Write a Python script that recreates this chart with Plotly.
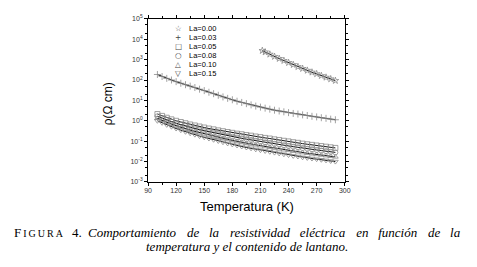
import plotly.graph_objects as go

# page size and the default 8px body margin of the written html page
PAGE_W, PAGE_H = 477, 267
BODY_MARGIN = 8
W, H = PAGE_W - BODY_MARGIN, PAGE_H - BODY_MARGIN

# ---------------- data (log10 of rho in ohm*cm) ----------------
T_top = [212, 215, 220, 225, 230, 235, 240, 245, 250, 255, 260, 265, 270, 275, 280, 285, 290]
log_rho_la000 = [3.44, 3.37, 3.26, 3.15, 3.05, 2.95, 2.85, 2.75, 2.65, 2.56, 2.47, 2.38, 2.30,
                 2.21, 2.13, 2.05, 1.97]

T_main = [100, 105, 110, 115, 120, 125, 130, 135, 140, 145, 150, 155, 160, 165, 170, 175, 180,
          185, 190, 195, 200, 205, 210, 215, 220, 225, 230, 235, 240, 245, 250, 255, 260, 265,
          270, 275, 280, 285, 290]
log_rho_la003 = [2.27, 2.17, 2.08, 2.00, 1.92, 1.84, 1.77, 1.70, 1.63, 1.55, 1.48, 1.40, 1.33,
                 1.25, 1.17, 1.10, 1.03, 0.96, 0.90, 0.84, 0.78, 0.72, 0.67, 0.62, 0.57, 0.52,
                 0.48, 0.44, 0.40, 0.36, 0.33, 0.29, 0.26, 0.22, 0.19, 0.15, 0.12, 0.08, 0.05]
log_rho_la005 = [0.33, 0.24, 0.15, 0.07, 0.00, -0.06, -0.12, -0.18, -0.23, -0.28, -0.33, -0.38,
                 -0.42, -0.47, -0.51, -0.55, -0.59, -0.63, -0.66, -0.70, -0.73, -0.77, -0.80,
                 -0.84, -0.87, -0.91, -0.94, -0.98, -1.01, -1.05, -1.08, -1.12, -1.15, -1.18,
                 -1.21, -1.24, -1.27, -1.30, -1.33]
log_rho_la008 = [0.22, 0.13, 0.04, -0.04, -0.12, -0.19, -0.26, -0.32, -0.38, -0.44, -0.49, -0.54,
                 -0.59, -0.64, -0.69, -0.74, -0.78, -0.82, -0.86, -0.90, -0.94, -0.98, -1.02,
                 -1.06, -1.09, -1.13, -1.16, -1.20, -1.23, -1.27, -1.30, -1.34, -1.37, -1.40,
                 -1.43, -1.46, -1.49, -1.52, -1.55]
log_rho_la010 = [0.12, 0.02, -0.07, -0.16, -0.24, -0.32, -0.39, -0.46, -0.52, -0.58, -0.64, -0.70,
                 -0.75, -0.81, -0.86, -0.91, -0.96, -1.01, -1.05, -1.10, -1.14, -1.18, -1.22,
                 -1.26, -1.30, -1.34, -1.38, -1.42, -1.45, -1.49, -1.52, -1.56, -1.59, -1.62,
                 -1.65, -1.68, -1.71, -1.74, -1.77]
log_rho_la015 = [0.00, -0.10, -0.20, -0.29, -0.38, -0.46, -0.54, -0.61, -0.68, -0.75, -0.81, -0.87,
                 -0.93, -0.99, -1.05, -1.11, -1.16, -1.21, -1.26, -1.31, -1.35, -1.40, -1.44,
                 -1.48, -1.52, -1.56, -1.60, -1.64, -1.68, -1.72, -1.75, -1.79, -1.82, -1.85,
                 -1.88, -1.91, -1.94, -1.97, -2.00]

series_names = ["La=0.00", "La=0.03", "La=0.05", "La=0.08", "La=0.10", "La=0.15"]
legend_glyphs = ["\u2606", "+", "\u25a1", "\u25cb", "\u25b3", "\u25bd"]

x_ticks = [90, 120, 150, 180, 210, 240, 270, 300]
y_tick_exps = [-3, -2, -1, 0, 1, 2, 3, 4, 5]

# ---------------- figure ----------------
series = [
    (T_top, log_rho_la000, "star-open"),
    (T_main, log_rho_la003, "cross-thin-open"),
    (T_main, log_rho_la005, "square-open"),
    (T_main, log_rho_la008, "circle-open"),
    (T_main, log_rho_la010, "triangle-up-open"),
    (T_main, log_rho_la015, "triangle-down-open"),
]

fig = go.Figure()
for (tx, ly, sym), name in zip(series, series_names):
    fig.add_trace(go.Scatter(
        x=tx, y=[10 ** v for v in ly], mode="lines+markers", name=name,
        line=dict(color="#111", width=1),
        marker=dict(symbol=sym, size=5, color="#8a8a8a", line=dict(width=0.8, color="#8a8a8a")),
        showlegend=False,
    ))

# page pixel -> paper fraction
def px_x(p):
    return (p - BODY_MARGIN) / W

def px_y(p):
    return 1 - (p - BODY_MARGIN) / H

x0, x1 = 147.0, 348.0
y0, y1 = 15, 182.7

font_sans = "Liberation Sans, Arial, sans-serif"
fig.update_layout(
    width=W, height=H,
    margin=dict(l=0, r=0, t=0, b=0),
    paper_bgcolor="white", plot_bgcolor="white",
    showlegend=False,
    xaxis=dict(
        domain=[px_x(x0), px_x(x1)], range=[90, 300],
        tickvals=x_ticks, ticktext=[str(v) for v in x_ticks],
        ticks="outside", ticklen=3, tickwidth=1, tickcolor="black",
        minor=dict(ticks="outside", ticklen=2, tickwidth=1, tickcolor="black", dtick=15, tick0=90),
        showline=True, linecolor="black", linewidth=1, mirror="ticks",
        showgrid=False, zeroline=False, ticklabelstandoff=-1,
        tickfont=dict(family=font_sans, size=7, color="#333"),
    ),
    yaxis=dict(
        domain=[px_y(y1), px_y(y0)], type="log", range=[-3, 5],
        tickvals=[10 ** e for e in y_tick_exps],
        ticktext=["10<sup>%d</sup>" % e for e in y_tick_exps],
        ticks="outside", ticklen=3, tickwidth=1, tickcolor="black",
        minor=dict(ticks="outside", ticklen=2, tickwidth=1, tickcolor="black"),
        showline=True, linecolor="black", linewidth=1, mirror="ticks",
        showgrid=False, zeroline=False,
        tickfont=dict(family=font_sans, size=7, color="#333"),
    ),
)

ann = []
# axis titles
ann.append(dict(x=px_x(248), y=px_y(208), xref="paper", yref="paper", text="Temperatura (K)",
                showarrow=False, font=dict(family=font_sans, size=13, color="black"),
                xanchor="center", yanchor="middle"))
ann.append(dict(x=px_x(107), y=px_y(102), xref="paper", yref="paper", text="\u03c1(\u03a9 cm)",
                showarrow=False, textangle=-90, font=dict(family=font_sans, size=12, color="black"),
                xanchor="center", yanchor="middle"))

# legend drawn as text
legend_rows = [25, 34.3, 43.3, 52.3, 61.7, 71]
for g, name, ry in zip(legend_glyphs, series_names, legend_rows):
    ann.append(dict(x=px_x(177.7), y=px_y(ry), xref="paper", yref="paper", text=g,
                    showarrow=False, font=dict(family="DejaVu Sans", size=7.5, color="#444"),
                    xanchor="center", yanchor="middle"))
    ann.append(dict(x=px_x(186.5), y=px_y(ry), xref="paper", yref="paper", text=name,
                    showarrow=False, font=dict(family=font_sans, size=7.5, color="black"),
                    xanchor="left", yanchor="middle"))

# caption
serif = "Liberation Serif, Times New Roman, serif"
ann.append(dict(x=px_x(8), y=px_y(235), xref="paper", yref="paper",
                text="F<span style='font-size:10px'>\u2009I\u2009G\u2009U\u2009R\u2009A</span>",
                showarrow=False, font=dict(family=serif, size=13, color="black"),
                xanchor="left", yanchor="middle"))
ann.append(dict(x=px_x(67), y=px_y(235), xref="paper", yref="paper", text="4.",
                showarrow=False, font=dict(family=serif, size=13, color="black"),
                xanchor="left", yanchor="middle"))
line1_words = ["Comportamiento", "de", "la", "resistividad", "el\u00e9ctrica", "en",
               "funci\u00f3n", "de", "la"]
gaps = [" \u00a0\u00a0\u200a", " \u00a0\u00a0"]
line1 = line1_words[0]
for i, wd in enumerate(line1_words[1:]):
    line1 += gaps[i % 2] + wd
ann.append(dict(x=px_x(469), y=px_y(235), xref="paper", yref="paper",
                text="<i>" + line1 + "</i>",
                showarrow=False, font=dict(family=serif, size=13, color="black"),
                xanchor="right", yanchor="middle"))
ann.append(dict(x=px_x(248), y=px_y(249.5), xref="paper", yref="paper",
                text="<i>temperatura y el contenido de lantano.</i>",
                showarrow=False, font=dict(family=serif, size=13, color="black"),
                xanchor="center", yanchor="middle"))

fig.update_layout(annotations=ann)
fig.write_html("out.html")
